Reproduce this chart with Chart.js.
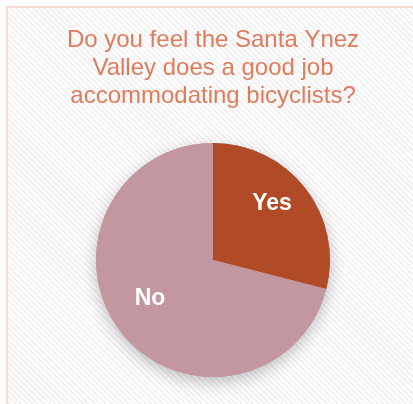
<!DOCTYPE html>
<html>
<head>
<meta charset="utf-8">
<script src="https://cdn.jsdelivr.net/npm/chart.js@4/dist/chart.umd.min.js"></script>
<style>
  html, body { margin: 0; padding: 0; background: #fff; }
  #wrap {
    position: relative;
    width: 413px;
    height: 404px;
    overflow: hidden;
    background: #fff;
  }
  #frame {
    position: absolute;
    left: 6px;
    top: 6px;
    width: 500px;
    height: 500px;
    border-left: 2px solid #f6ddd4;
    border-top: 2px solid #f6ddd4;
    background: repeating-linear-gradient(45deg, #ffffff 0px, #ffffff 2px, #f2f2f2 2px, #f2f2f2 4px);
  }
  canvas { position: absolute; left: 0; top: 0; }
</style>
</head>
<body>
<div id="wrap">
  <div id="frame"></div>
  <canvas id="pieChart" width="413" height="404"></canvas>
</div>
<script>
  // Chart data
  const categories = ["Yes", "No"];
  const answers = [29, 71];
  const sliceColors = ["#b04a27", "#c3979f"];
  const titleLines = [
    "Do you feel the Santa Ynez",
    "Valley does a good job",
    "accommodating bicyclists?"
  ];

  // soft shadow under the pie
  const pieShadow = {
    id: "pieShadow",
    beforeDatasetsDraw(chart) {
      const arc = chart.getDatasetMeta(0).data[0];
      if (!arc) return;
      const { x, y, outerRadius } = arc.getProps(["x", "y", "outerRadius"], true);
      const ctx = chart.ctx;
      ctx.save();
      ctx.shadowColor = "rgba(0, 0, 0, 0.25)";
      ctx.shadowBlur = 16;
      ctx.shadowOffsetY = 5;
      ctx.fillStyle = sliceColors[1];
      ctx.beginPath();
      ctx.arc(x, y, outerRadius, 0, Math.PI * 2);
      ctx.fill();
      ctx.restore();
    }
  };

  // category names inside the slices
  const sliceLabels = {
    id: "sliceLabels",
    afterDatasetsDraw(chart) {
      const ctx = chart.ctx;
      const meta = chart.getDatasetMeta(0);
      ctx.save();
      ctx.fillStyle = "#ffffff";
      ctx.font = "bold 23px 'Liberation Sans', Arial, sans-serif";
      ctx.textAlign = "center";
      ctx.textBaseline = "middle";
      meta.data.forEach((arc, i) => {
        const p = arc.getProps(["x", "y", "startAngle", "endAngle", "outerRadius"], true);
        const mid = (p.startAngle + p.endAngle) / 2;
        const r = p.outerRadius * 0.66;
        // labels sit a little above the slice middle
        ctx.fillText(categories[i], p.x + Math.cos(mid) * r - 2, p.y + Math.sin(mid) * r - 9);
      });
      ctx.restore();
    }
  };

  const ctx = document.getElementById("pieChart").getContext("2d");
  const pieChart = new Chart(ctx, {
    type: "pie",
    data: {
      labels: categories,
      datasets: [
        {
          data: answers,
          backgroundColor: sliceColors,
          borderWidth: 0,
        },
      ],
    },
    options: {
      responsive: false,
      animation: false,
      layout: {
        padding: { left: 13, right: 0, top: 0, bottom: 27 },
      },
      plugins: {
        legend: { display: false },
        tooltip: { enabled: false },
        title: {
          display: true,
          text: titleLines,
          color: "#e07b5b",
          font: { family: "'Liberation Sans', Arial, sans-serif", size: 24, weight: "normal", lineHeight: 28 / 24 },
          padding: { top: 26, bottom: 33 },
        },
      },
    },
    plugins: [pieShadow, sliceLabels],
  });
</script>
</body>
</html>
